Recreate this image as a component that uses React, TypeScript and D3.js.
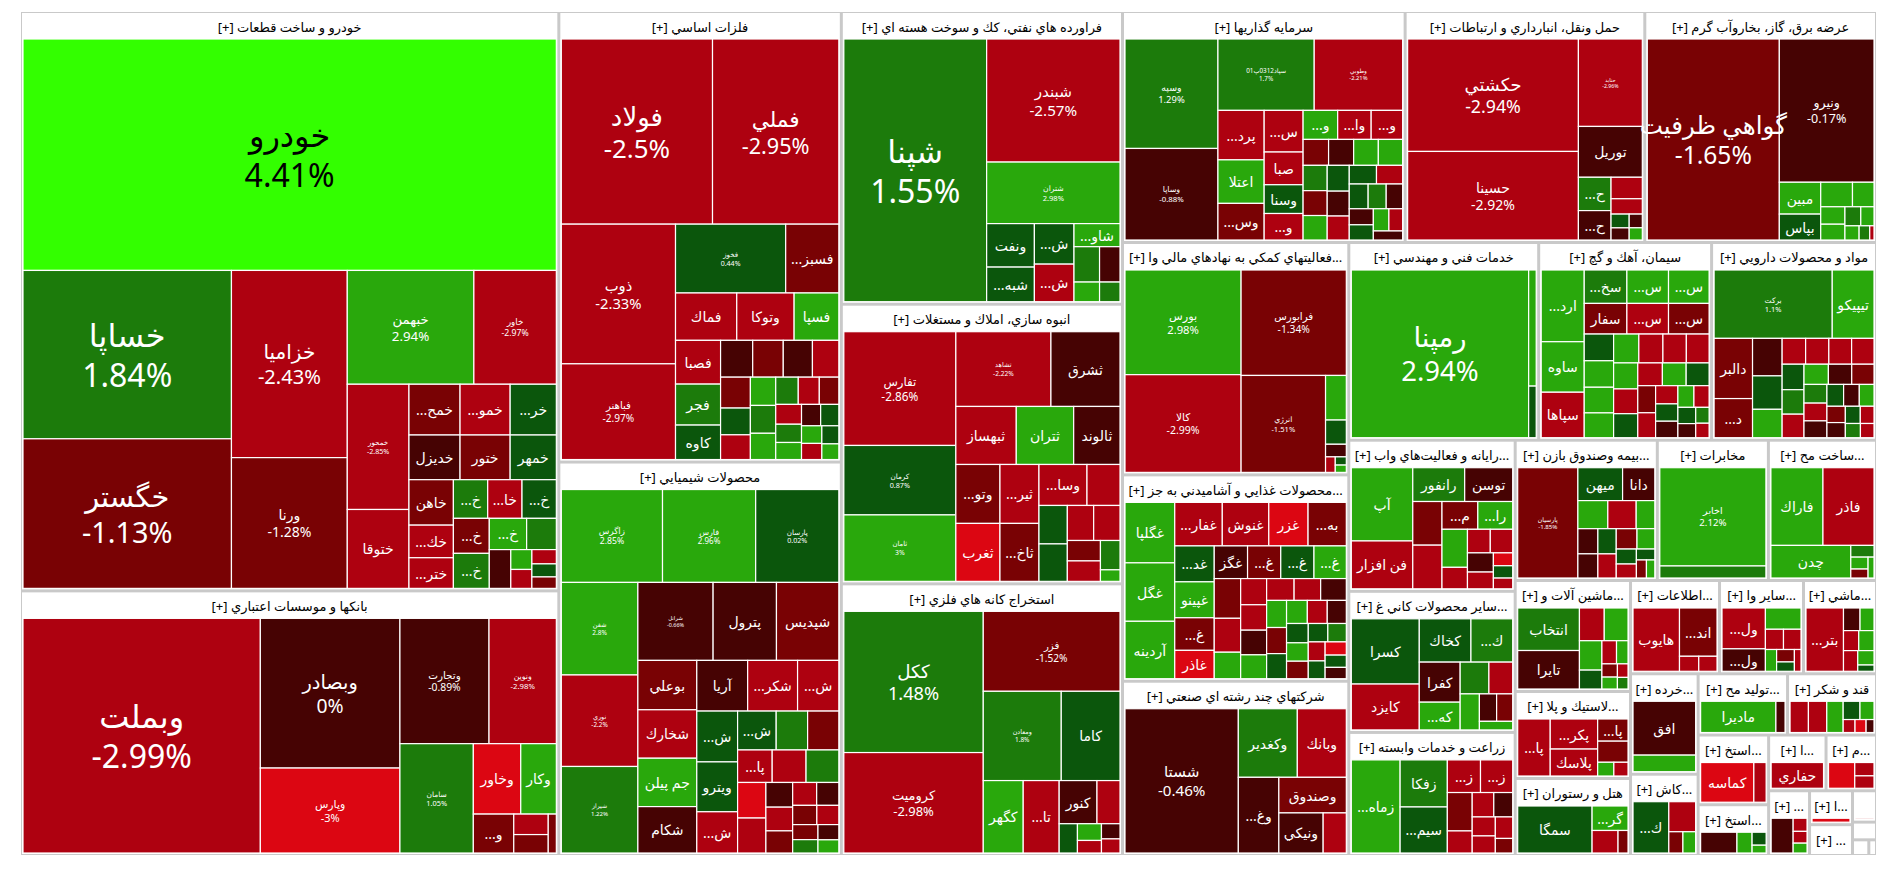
import React, { useMemo } from 'react';
import * as d3 from 'd3';

// [symbol, change %, weight]
type Tile = [string, number, number];

const sectorNames: string[] = [
  'خودرو و ساخت قطعات',
  'بانكها و موسسات اعتباري',
  'فلزات اساسي',
  'محصولات شيميايي',
  'فراورده هاي نفتي، كك و سوخت هسته اي',
  'انبوه سازي، املاك و مستغلات',
  'استخراج كانه هاي فلزي',
  'سرمايه گذاريها',
  'حمل ونقل، انبارداري و ارتباطات',
  'عرضه برق، گاز، بخاروآب گرم',
  'فعاليتهاي كمكي به نهادهاي مالي واسط',
  'محصولات غذايي و آشاميدني به جز قند و شكر',
  'شركتهاي چند رشته اي صنعتي',
  'خدمات فني و مهندسي',
  'سيمان، آهك و گچ',
  'مواد و محصولات دارويي',
  'رايانه و فعاليت‌هاي وابسته به آن',
  'ساير محصولات كاني غيرفلزي',
  'زراعت و خدمات وابسته',
  'بيمه وصندوق بازنشستگي به جزتامين اجتماعي',
  'مخابرات',
  'ساخت محصولات فلزي',
  'ماشين آلات و تجهيزات',
  'لاستيك و پلاستيك',
  'هتل و رستوران',
  'اطلاعات و ارتباطات',
  'ساير واسطه گريهاي مالي',
  'ماشين آلات و دستگاههاي برقي',
  'خرده فروشي،باستثناي وسايل نقليه موتوري',
  'كاشي و سراميك',
  'توليد محصولات كامپيوتري الكترونيكي ونوري',
  'قند و شكر',
  'استخراج ساير معادن',
  'استخراج زغال سنگ',
  'استخراج نفت گاز و خدمات جنبي جز اكتشاف',
  'منسوجات',
  'محصولات كاغذي',
  'انتشار، چاپ و تكثير',
  'محصولات چوبي',
  'حمل و نقل آبي',
  'فعاليت هاي هنري، سرگرمي و خلاقانه',
  'دباغي، پرداخت چرم و ساخت انواع پاپوش',
  'پيمانكاري صنعتي',
];

const sectorValues: number[] = [
  310964, 142032, 126900, 110826, 82052, 78399, 76151, 65090, 55200, 53360,
  52432, 46556, 39324, 37430, 34081, 32505, 25066, 23406, 20418, 19880,
  15540, 15120, 12765, 10005, 8855, 8277, 7812, 6789, 6767, 5480,
  5460, 5430, 4900, 3570, 3190, 2805, 2640, 1452, 1320, 750,
  425, 255, 120,
];

const s01: Tile[] = [
  ['خودرو', 4.41, 123740], ['خساپا', 1.84, 35190], ['خگستر', -1.13, 31257], ['خزاميا', -2.43, 21735],
  ['ورنا', -1.28, 15180], ['خبهمن', 2.94, 14448], ['خاور', -2.97, 9408], ['خمحور', -2.85, 7747],
  ['ختوقا', -2.61, 4880], ['خمحركه', -1.62, 2600], ['خموتور', -2.38, 2550], ['خريخت', 0.58, 2350],
  ['خديزل', -0.71, 2288], ['ختور', -1.49, 2244], ['خمهر', 0.52, 2068], ['خاهن', -1.41, 2024],
  ['خكمك', -2.52, 1452], ['ختراك', -2.64, 1364], ['خفنر', 1.63, 1330], ['خاذين', -2.21, 1330],
  ['خلنت', 0.44, 1330], ['خكار', -1.72, 1260], ['خرينگ', 1.38, 1260], ['خپويش', 2.61, 1170],
  ['خزر', 1.81, 930], ['خشرق', -0.62, 836], ['خودكفا', 2.37, 420], ['خچرخش', -2.33, 400],
  ['خصدرا', -2.18, 350], ['خپارس', 0.31, 320], ['خوساز', -1.84, 280],
];
const s02: Tile[] = [
  ['وبملت', -2.99, 55221], ['وبصادر', 0, 20720], ['وپارس', -3, 11760], ['وتجارت', -0.89, 11070],
  ['ونوين', -2.98, 8364], ['سامان', 1.05, 7957], ['وخاور', -3.12, 3312], ['وكار', 2.46, 2484],
  ['وسينا', -1.57, 1560], ['وپست', -2.41, 700], ['وملل', -1.53, 630], ['وگردش', -1.22, 312],
];
const s03: Tile[] = [
  ['فولاد', -2.5, 27360], ['فملي', -2.95, 22860], ['ذوب', -2.33, 15587], ['فباهنر', -2.97, 10682],
  ['فخوز', 0.44, 7410], ['فسبزوار', -1.51, 3575], ['فماك', -2.62, 2835], ['وتوكا', -2.48, 2655],
  ['فسپا', 2.21, 2070], ['فصبا', -2.39, 1927], ['فجر', 1.52, 1804], ['كاوه', 0.63, 1517],
  ['فاما', -0.54, 1156], ['فالوم', -1.42, 1100], ['فنورد', -0.41, 1050], ['فرآور', -2.47, 950],
  ['فگستر', -1.63, 900], ['فلامي', 0.71, 780], ['فزرين', -2.31, 720], ['فروس', 2.42, 700],
  ['فنوال', 1.53, 690], ['هرمز', 2.28, 650], ['فايرا', 1.24, 600], ['فسرب', -2.36, 560],
  ['فكمند', -1.71, 520], ['فافزا', -2.19, 500], ['فجهان', 1.33, 460], ['فاسمين', 2.52, 430],
  ['فرود', -0.33, 400], ['فتوسا', 0.82, 380], ['فولاي', 2.44, 350], ['فغدير', -2.12, 320],
  ['فمراد', 0.61, 300], ['فبستم', 2.71, 260],
];
const s04: Tile[] = [
  ['زاگرس', 2.85, 8888], ['فارس', 2.96, 8184], ['پارسان', 0.02, 7304], ['شفن', 2.8, 6700],
  ['نوري', -2.2, 6624], ['شيراز', 1.22, 6264], ['شرانل', -0.66, 5548], ['پترول', -0.81, 4672],
  ['شپديس', -1.43, 4600], ['بوعلي', -1.62, 2750], ['شخارك', -2.41, 2700], ['جم پيلن', 2.53, 2695],
  ['شكام', -0.72, 2585], ['آريا', -0.64, 2438], ['شكربن', -2.52, 2392], ['شيران', -2.47, 1978],
  ['شگويا', 0.71, 1961], ['ويترو', 0.63, 1924], ['شپاكسا', -2.38, 1591], ['شسپا', 0.52, 1419],
  ['شاراك', 1.41, 1155], ['شفارس', -1.33, 1148], ['پاكسان', -2.51, 1064], ['شبريز', -2.44, 1041],
  ['شاملا', 1.62, 1008], ['شلعاب', -3.21, 952], ['شصفها', -2.32, 936], ['كرماشا', -0.43, 625],
  ['شصدف', -2.22, 600], ['شكلر', -1.54, 560], ['شسينا', -2.41, 520], ['شدوص', -0.52, 480],
  ['شجم', -1.31, 440], ['شيمي', -2.23, 400], ['شتولي', -1.61, 360], ['شوينده', 1.72, 320],
  ['شملي', -0.81, 300], ['شرنگي', 2.24, 260],
];
const s05: Tile[] = [
  ['شپنا', 1.55, 37365], ['شبندر', -2.57, 16348], ['شتران', 2.98, 8174], ['ونفت', 0.61, 2068],
  ['شبهرن', 0.53, 1645], ['شراز', 0.42, 1599], ['شنفت', -2.34, 1482], ['شاوان', 2.21, 1058],
  ['شپاس', 1.63, 900], ['شسپا', -0.52, 720], ['شكلر', 2.12, 500], ['شدوص', 1.91, 400],
];
const s06: Tile[] = [
  ['تفارس', -2.86, 12430], ['كرمان', 0.87, 7590], ['ثامان', 3, 7260], ['تشاهد', -2.22, 6935],
  ['ثشرق', -0.61, 5037], ['ثبهساز', -2.52, 3420], ['ثتران', 2.41, 3249], ['ثالوند', -0.71, 2622],
  ['وتوسم', -1.52, 2537], ['ثغرب', -3.31, 2494], ['ثيرانسا', -2.48, 2242], ['ثاخت', -1.63, 2204],
  ['وساخت', -2.41, 1920], ['ثنظام', -2.52, 1320], ['ثاباد', 0.52, 1064], ['ومسكن', 0.63, 1036],
  ['ثجنوب', -2.33, 900], ['ثمسكن', -2.54, 900], ['ثرود', -1.62, 660], ['ثعمرا', -2.43, 660],
  ['ثباغ', 1.81, 560], ['ثنوسا', 2.12, 220],
];
const s07: Tile[] = [
  ['ككل', 1.48, 19596], ['كروميت', -2.98, 13938], ['فزر', -1.52, 10880], ['ومعادن', 1.8, 6930],
  ['كاما', 0.61, 5220], ['كگهر', 2.43, 2880], ['تاصيكو', -2.51, 2592], ['كنور', -0.72, 1624],
  ['كمنگنز', -2.42, 989], ['كترام', 0.61, 532], ['كسرام', 2.22, 400], ['كپشير', -2.31, 300],
  ['كزغال', -0.52, 280], ['كهمدا', -2.53, 260],
];
const s08: Tile[] = [
  ['وسپه', 1.29, 10010], ['وساپا', -0.88, 8372], ['سپاد0312پ01', 1.7, 6762], ['وطوبي', -2.21, 6210],
  ['پرديس', -2.42, 2250], ['اعتلا', 2.51, 1980], ['وسكاب', -1.62, 1665], ['سرچشمه', -2.53, 1596],
  ['صبا', -2.61, 1254], ['وسنا', 0.53, 1102], ['وسبحان', -2.31, 1015], ['وصنا', 2.33, 988],
  ['واميد', -2.42, 957], ['ونيكي', -2.52, 899], ['واتي', -1.51, 650], ['وبوعلي', -0.62, 640],
  ['وآوا', 2.31, 630], ['وسالت', 2.42, 620], ['وتوصا', 1.43, 600], ['وصنعت', -1.33, 590],
  ['ورنيل', 2.21, 580], ['وسرمد', 0.62, 560], ['وسكرد', -0.61, 540], ['واعتبار', -2.41, 520],
  ['ودي', 0.51, 500], ['وزمين', -2.52, 480], ['وحافظ', 0.42, 460], ['وكبير', 1.53, 440],
  ['وسين', -0.43, 400], ['وپويا', -0.72, 380], ['ومشان', 0.41, 360], ['وگستر', 2.22, 340],
  ['ولكار', -2.33, 300], ['ومهان', -0.51, 260],
];
const s09: Tile[] = [
  ['حكشتي', -2.94, 19210], ['حسينا', -2.92, 15130], ['حتايد', -2.96, 5590], ['توريل', -0.71, 3250],
  ['حپارسا', 1.52, 1088], ['حآسا', -0.63, 960], ['حريل', -2.41, 672], ['حفارس', -2.52, 480],
  ['حسير', 0.61, 250], ['حپترو', -0.52, 220], ['حرهشا', -0.63, 180], ['حتوكا', 2.41, 160],
];
const s10: Tile[] = [
  ['گواهي ظرفيت', -1.65, 26390], ['ونيرو', -0.17, 13490], ['مبين', 2.41, 1312], ['بپاس', 0.62, 1066],
  ['بزاگرس', 2.33, 775], ['بجهرم', 2.52, 525], ['بفجر', 2.21, 420], ['بمولد', 2.42, 380],
  ['بكاب', 1.63, 300], ['بنيرو', 2.31, 250], ['بتك', 2.22, 200], ['بموتو', 1.84, 150],
  ['بسويچ', -2.51, 60],
];
const s11: Tile[] = [
  ['بورس', 2.98, 12075], ['كالا', -2.99, 11270], ['فرابورس', -1.34, 11025], ['انرژي', -1.51, 8134],
  ['آتيه', 2.42, 920], ['فاتح', 0.63, 500], ['نيكي', -0.61, 260], ['آرمان', -2.43, 150],
  ['كاردان', 0.52, 90], ['تدبير', 2.41, 80],
];
const s12: Tile[] = [
  ['غگلپا', 2.41, 3009], ['غگل', 2.52, 2907], ['آردينه', 2.43, 2856], ['غفارس', -2.52, 2070],
  ['غنوش', -2.41, 2025], ['غزر', -3.21, 1710], ['بهپاك', -1.62, 1665], ['غدشت', 0.61, 1419],
  ['غپينو', 2.33, 1419], ['غشهد', -1.52, 1287], ['غاذر', -3.12, 1120], ['غگز', -0.62, 1088],
  ['غمهرا', -1.41, 1085], ['غوثر', 0.53, 1085], ['غشاذر', 2.31, 1056], ['غچين', -1.63, 1050],
  ['غبهنوش', -2.52, 896], ['غپاك', 2.32, 700], ['غصينو', -2.41, 680], ['غمينو', -2.53, 660],
  ['غالبر', -0.71, 640], ['غبشهر', 2.42, 620], ['غشصفا', -2.31, 600], ['غسالم', -2.42, 580],
  ['غديس', -0.61, 560], ['غكورش', 2.22, 540], ['غپآذر', -1.63, 520], ['غشان', 0.62, 500],
  ['غمارگ', 2.31, 480], ['غگرجي', -2.42, 460], ['غنيلي', -0.53, 440], ['غبهار', 0.61, 420],
  ['غدام', 2.42, 400], ['غشوكو', -1.51, 380], ['غمگسار', 0.52, 360], ['غويتا', 1.41, 340],
  ['غكوروش', -2.52, 320], ['غپونه', 0.43, 300], ['غزاگرس', -3.11, 280], ['غتوسا', 0.61, 260],
  ['غاتنا', -0.52, 240],
];
const s13: Tile[] = [
  ['شستا', -0.46, 16206], ['وكغدير', 1.52, 4012], ['وبانك', -2.41, 3332], ['وغدير', -0.62, 3040],
  ['وصندوق', -1.61, 2380], ['ونيكي', -0.71, 1760], ['وپخش', -2.43, 920],
];
const s14: Tile[] = [
  ['رمپنا', 2.94, 30576], ['فني', 2.31, 900], ['رنيك', 0.52, 400],
];
const s15: Tile[] = [
  ['اردستان', 2.42, 3195], ['ساوه', 2.33, 2250], ['سپاها', -2.51, 2025], ['سخزر', 1.52, 1476],
  ['سشرق', 2.41, 1440], ['سصوفي', 2.32, 1404], ['سفار', -1.53, 1353], ['سبهان', -2.42, 1320],
  ['ستران', -1.61, 1287], ['سدور', 0.62, 812], ['سكرما', 2.51, 806], ['سغرب', 2.42, 780],
  ['سفانو', 2.33, 754], ['سهگمت', 2.21, 754], ['سيلام', -2.41, 720], ['سكرد', -2.52, 700],
  ['سنير', -2.31, 680], ['ساربيل', 2.42, 650], ['سمازن', -2.51, 620], ['سقاين', 0.52, 600],
  ['سبجنو', -2.42, 580], ['سدشت', 2.31, 560], ['سخاش', 0.61, 540], ['سهرمز', -1.62, 500],
  ['سباقر', -2.41, 460], ['سيدكو', -2.52, 420], ['سفارس', 0.62, 400], ['سكارون', -0.61, 380],
  ['سمتاز', 2.12, 360], ['سپيدار', -2.31, 340], ['سجام', 0.52, 300], ['سشمال', -0.62, 260],
  ['ساراب', 1.51, 220], ['سنوين', -2.42, 200],
];
const s16: Tile[] = [
  ['بركت', 1.1, 7540], ['تيپيكو', 2.42, 2665], ['دالبر', -1.62, 2160], ['دسبحا', -1.51, 1404],
  ['دتماد', -0.62, 1036], ['دفارا', 0.61, 924], ['دشيمي', 2.42, 784], ['دكوثر', -2.51, 567],
  ['دابور', -2.42, 560], ['دلقما', -2.31, 550], ['دجابر', -2.52, 540], ['دعبيد', 0.62, 520],
  ['دسينا', 1.51, 500], ['دزهراوي', -2.42, 480], ['دفرا', 2.31, 460], ['دكپسول', -0.61, 440],
  ['دپارس', -1.52, 420], ['دتوليد', 1.41, 400], ['دامين', -2.42, 380], ['درازك', -0.52, 360],
  ['دشيري', 0.61, 340], ['دكيمي', -0.72, 320], ['ديران', 2.42, 300], ['دلر', -1.61, 280],
  ['دقاضي', -0.52, 260], ['داوه', 0.51, 240], ['دبالك', -2.52, 220], ['دتهران', 1.52, 200],
  ['دكيسون', -2.41, 180],
];
const s17: Tile[] = [
  ['آپ', 2.42, 4350], ['فن افزار', -2.51, 2842], ['رانفور', 1.52, 1696], ['توسن', -0.62, 1568],
  ['رتكو', -1.61, 1232], ['سيستم', -2.42, 1232], ['مداران', -1.52, 962], ['رافزا', 2.33, 936],
  ['اپرداز', 2.41, 936], ['رنيك', -2.42, 528], ['رايان', -2.51, 520], ['فاوا', -2.31, 510],
  ['سپ', -0.61, 480], ['پرداخت', -2.41, 420], ['ماهان', -3.12, 240], ['نتخ', 0.62, 230],
  ['ركيش', -2.22, 200],
];
const s18: Tile[] = [
  ['كسرا', 0.61, 4224], ['كايزد', -2.52, 2970], ['كخاك', 0.72, 2132], ['كساوه', 1.51, 1722],
  ['كفرا', -0.61, 1560], ['كهرام', 2.42, 1080], ['كلوند', 1.41, 870], ['كپارس', -2.42, 720],
  ['كرازي', 2.41, 660], ['كسعدي', -0.72, 450], ['كفپارس', -1.61, 420], ['كتوكا', 2.33, 272],
];
const s19: Tile[] = [
  ['زماهان', 2.42, 4140], ['زفكا', 1.52, 2025], ['سيمرغ', 0.61, 1980], ['زشريف', -2.42, 986],
  ['زگلدشت', -2.51, 957], ['زكوثر', -1.62, 870], ['زملارد', -2.31, 500], ['زبينا', -2.52, 480],
  ['زقيام', -0.61, 420], ['زشگزا', -2.42, 400], ['زپارس', -2.51, 360], ['زنجان', -2.33, 340],
  ['زدشت', -1.52, 230],
];
const s20: Tile[] = [
  ['پارسيان', -1.85, 6600], ['ميهن', 0.62, 1462], ['دانا', -0.71, 1054], ['وتعاون', 2.42, 836],
  ['البرز', -2.51, 792], ['ملت', 2.31, 520], ['بپاس', -0.62, 500], ['كوثر', -0.53, 480],
  ['آسيا', 0.61, 460], ['ما', -2.42, 440], ['اتكاي', -1.51, 420], ['وآفري', 2.31, 360],
  ['تكميل', 0.52, 300], ['بنو', -2.42, 280], ['حافظ', 0.61, 200], ['بساما', -1.52, 180],
  ['سرود', 2.31, 150],
];
const s21: Tile[] = [['اخابر', 2.12, 10388], ['همراه', 1.52, 1272]];
const s22: Tile[] = [
  ['فاراك', 2.31, 3927], ['فاذر', -2.52, 3850], ['چدن', 2.42, 2528], ['فنرژي', 1.51, 264],
  ['فلوله', 2.22, 200], ['فبيرا', -1.62, 150], ['فجام', 2.41, 120],
];
const s23: Tile[] = [
  ['انتخاب', 1.52, 2562], ['تايرا', -0.71, 2318], ['تكشا', -2.51, 792], ['تپمپي', 2.42, 759],
  ['تاپكو', 2.31, 644], ['پمپيران', 0.52, 414], ['تفيرو', -2.42, 330], ['تليسه', 2.21, 260],
  ['تجهيز', -1.62, 200], ['تيراژ', 2.31, 180], ['تمحركه', -2.52, 140], ['تهويه', 1.51, 120],
];
const s24: Tile[] = [
  ['پارتا', -2.51, 1736], ['پكرمان', -2.42, 1334], ['پلاسك', -2.31, 1196], ['پاكشو', -1.61, 630],
  ['پدرخش', -1.52, 600], ['پتاير', 2.42, 208], ['پسهند', -2.42, 182],
];
const s25: Tile[] = [['سمگا', 0.62, 3577], ['گردش', 2.31, 900], ['اماكن', -2.42, 598], ['تكيش', -1.51, 230]];
const s26: Tile[] = [['هايوب', -2.51, 2898], ['انديشه', -1.62, 1786], ['امين', -2.42, 285], ['اعتماد', -2.31, 270]];
const s27: Tile[] = [
  ['ولساپا', -2.52, 1600], ['ولتجار', -0.62, 880], ['ولصنعت', 2.31, 684], ['وايران', -2.42, 330],
  ['ولبهمن', -2.51, 320], ['ولكار', 2.31, 220], ['ولملت', -1.61, 200], ['ولشرق', 0.61, 150],
  ['ولغدر', -2.42, 130],
];
const s28: Tile[] = [
  ['بترانس', -2.51, 2331], ['بشهاب', -0.62, 368], ['بكاب', 2.42, 310], ['بنيرو', -2.41, 300],
  ['بالاس', 2.31, 300], ['بسويچ', -2.52, 290], ['بموتو', 2.22, 230], ['بپارس', 0.51, 100],
];
const s29: Tile[] = [['افق', -0.71, 3172], ['رفاه', 2.42, 976]];
const s30: Tile[] = [['كپرور', 0.61, 1836], ['كحافظ', -2.51, 806], ['كتيل', -1.61, 300], ['كسرام', 2.31, 270]];
const s31: Tile[] = [['ماديرا', 2.42, 2220], ['مرقام', -0.71, 270]];
const s32: Tile[] = [
  ['قنيشا', -2.51, 560], ['قشكر', -2.42, 560], ['قزوين', 2.31, 500], ['قثابت', 0.61, 300],
  ['قلرست', 2.42, 250], ['قپيرا', -2.51, 150], ['قشهد', -3.12, 140], ['قاسم', -0.61, 100],
];
const s33: Tile[] = [['كماسه', -3.11, 2132], ['كباده', -2.42, 492]];
const s34: Tile[] = [['كزغال', -0.61, 828], ['كطبس', 2.42, 345], ['كپارس', 0.61, 200], ['كرزغ', 2.31, 120]];
const s35: Tile[] = [['حفاري', -2.51, 1456]];
const s36: Tile[] = [['نبروج', -3.21, 700], ['نطرين', -2.42, 266], ['نگين', -2.51, 247]];
const s37: Tile[] = [['چكاوه', -0.71, 840], ['چفيبر', -2.52, 200], ['چكارن', -2.41, 180], ['چكاپا', 2.31, 150]];
const s38: Tile[] = [['چاپ', -3.21, 273]];
const s39: Tile[] = [['چوكا', -2.42, 40]];
const s40: Tile[] = [['حخزر', -2.51, 60]];
const s41: Tile[] = [['هنر', 0.52, 20]];
const s42: Tile[] = [['بالبر', -2.31, 15]];
const s43: Tile[] = [['خاتم', -2.42, 10]];

const sectorTiles: Tile[][] = [
  s01, s02, s03, s04, s05, s06, s07, s08, s09, s10, s11, s12, s13, s14, s15, s16, s17, s18, s19, s20,
  s21, s22, s23, s24, s25, s26, s27, s28, s29, s30, s31, s32, s33, s34, s35, s36, s37, s38, s39, s40,
  s41, s42, s43,
];

const W = 1884;
const H = 855;
const MAP_X = 13;
const MAP_Y = 4;
const MAP_W = 1855;
const MAP_H = 843;
const HEAD = 26;
const HEAD_FONT = 13;
const SYM_FONT = 14;
const FONT = "'Noto Sans', 'DejaVu Sans', sans-serif";

function tileColor(p: number) {
  if (p > 3) return '#33ff00';
  if (p >= 2) return '#29a80c';
  if (p >= 1) return '#1c7b0b';
  if (p > 0) return '#0b560c';
  if (p > -1) return '#460303';
  if (p > -2) return '#790204';
  if (p > -3) return '#ae0110';
  return '#dc0612';
}

// right-to-left embedding so "..." and "[+]" land where the site puts them
const rtl = (s: string) => `\u202B${s}\u202C`;

let measureCtx: CanvasRenderingContext2D | null = null;
function textWidth(text: string, size: number) {
  if (!measureCtx) measureCtx = document.createElement('canvas').getContext('2d');
  if (!measureCtx) return text.length * size * 0.55;
  measureCtx.font = `${size}px ${FONT}`;
  return measureCtx.measureText(text).width;
}

function fitSymbol(sym: string, maxW: number, size: number) {
  if (textWidth(sym, size) <= maxW) return sym;
  for (let k = sym.length - 1; k >= 1; k--) {
    const t = sym.slice(0, k).trim() + '...';
    if (textWidth(t, size) <= maxW) return t;
  }
  return null;
}

function fitHeader(name: string, maxW: number, size: number) {
  const full = `${name} [+]`;
  if (textWidth(full, size) <= maxW) return full;
  for (let k = name.length - 1; k >= 0; k--) {
    const t = `...${name.slice(0, k).trim()} [+]`;
    if (textWidth(t, size) <= maxW) return t;
  }
  return null;
}

export default function App() {
  const sectors = useMemo(() => {
    const root = d3
      .hierarchy<any>({ children: sectorNames.map((name, i) => ({ name, i, value: sectorValues[i] })) })
      .sum((d: any) => (d.children ? 0 : d.value));
    d3.treemap<any>()
      .tile(d3.treemapSquarify.ratio(1))
      .size([MAP_W, MAP_H])
      .paddingOuter(1)
      .paddingInner(3)(root);

    return root.leaves().map((s: any) => {
      const i = s.data.i;
      const x0 = MAP_X + s.x0;
      const y0 = MAP_Y + s.y0;
      const x1 = MAP_X + s.x1;
      const y1 = MAP_Y + s.y1;
      const ix0 = x0 + 1;
      const iy0 = y0 + HEAD;
      const ix1 = x1 - 1;
      const iy1 = y1 - 1;
      let tiles: any[] = [];
      if (ix1 - ix0 > 1 && iy1 - iy0 > 0.5) {
        const h = d3
          .hierarchy<any>({ children: sectorTiles[i].map(([sym, pct, v]) => ({ sym, pct, value: v })) })
          .sum((d: any) => (d.children ? 0 : d.value))
          .sort((a: any, b: any) => b.value - a.value);
        d3.treemap<any>().tile(d3.treemapSquarify.ratio(1)).size([ix1 - ix0, iy1 - iy0])(h);
        tiles = h.leaves().map((t: any) => ({
          sym: t.data.sym,
          pct: t.data.pct,
          x: ix0 + t.x0,
          y: iy0 + t.y0,
          w: t.x1 - t.x0,
          h: t.y1 - t.y0,
        }));
      }
      const header = fitHeader(s.data.name, x1 - x0 - 6, HEAD_FONT);
      return { i, name: s.data.name, x0, y0, x1, y1, header, tiles };
    });
  }, []);

  const labels: any[] = [];
  sectors.forEach((s) => {
    s.tiles.forEach((t: any, k: number) => {
      const area = t.w * t.h;
      const cx = t.x + t.w / 2;
      const cy = t.y + t.h / 2;
      const fill = t.pct > 3 ? '#000' : '#fff';
      if (area >= 5400) {
        const fs = Math.min(32, area / 1080);
        labels.push(
          <g key={`l${s.i}-${k}`} fill={fill} fontSize={fs}>
            <text x={cx} y={cy - fs * 0.62} textAnchor="middle" dominantBaseline="central">
              {rtl(t.sym)}
            </text>
            <text x={cx} y={cy + fs * 0.62} textAnchor="middle" dominantBaseline="central">
              {`${t.pct}%`}
            </text>
          </g>
        );
      } else if (t.w >= 30 && t.h >= 22) {
        const txt = fitSymbol(t.sym, t.w - 10, SYM_FONT);
        if (txt) {
          labels.push(
            <text key={`l${s.i}-${k}`} x={cx} y={cy} fill={fill} fontSize={SYM_FONT} textAnchor="middle"
              dominantBaseline="central">
              {rtl(txt)}
            </text>
          );
        }
      }
    });
  });

  return (
    <svg width={W} height={H} style={{ display: 'block', fontFamily: FONT }}>
      <rect x={MAP_X} y={MAP_Y} width={MAP_W} height={MAP_H} fill="#c9c9c9" />
      {sectors.map((s) => (
        <g key={`s${s.i}`}>
          <rect x={s.x0} y={s.y0} width={s.x1 - s.x0} height={s.y1 - s.y0} fill="#fff" />
          {s.header && (
            <text x={(s.x0 + s.x1) / 2} y={s.y0 + 13.5} fontSize={HEAD_FONT} fill="#000" textAnchor="middle"
              dominantBaseline="central">
              {rtl(s.header)}
            </text>
          )}
          {s.tiles.map((t: any, k: number) => (
            <rect key={k} x={t.x} y={t.y} width={t.w} height={t.h} fill={tileColor(t.pct)} stroke="#fff" strokeWidth={1.2}>
              <title>{`${t.sym}: ${t.pct}%`}</title>
            </rect>
          ))}
        </g>
      ))}
      {labels}
    </svg>
  );
}
